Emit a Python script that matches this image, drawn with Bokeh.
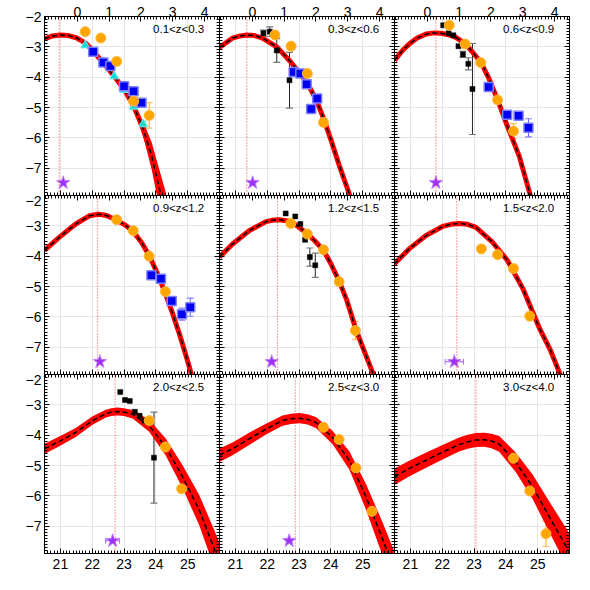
import numpy as np
from bokeh.plotting import figure
from bokeh.layouts import gridplot
from bokeh.models import (Range1d, LinearAxis, FixedTicker, ColumnDataSource,
                          Whisker, TeeHead, Label, Span)
from bokeh.embed import file_html
from bokeh.resources import INLINE

FONT = "Liberation Sans"
X_LO, X_HI = 20.5, 26.0
Y_LO, Y_HI = -7.9, -2.0
SFR_OFFSET = 21.53

panel_titles = ["0.1<z<0.3", "0.3<z<0.6", "0.6<z<0.9",
                "0.9<z<1.2", "1.2<z<1.5", "1.5<z<2.0",
                "2.0<z<2.5", "2.5<z<3.0", "3.0<z<4.0"]
vline_x = [20.96, 21.36, 21.80, 22.17, 22.32, 22.46, 22.72, 22.88, 23.06]
star_x = [21.09, 21.54, 21.80, 22.24, 22.14, 22.38, 22.64, 22.69, None]
star_xerr = [0.05, 0.10, 0.05, 0.05, 0.05, 0.29, 0.22, 0.10, None]
star_y = -7.48

x_ticks = [21, 22, 23, 24, 25]
sfr_ticks = [0, 1, 2, 3, 4]
y_ticks = [-7, -6, -5, -4, -3, -2]

# ---- panel 1 ----
p1_curve_x = [20.5, 20.75, 21.0, 21.25, 21.5, 21.78, 22.0, 22.35, 22.69, 23.0, 23.3, 23.6, 23.87, 24.07, 24.3]
p1_curve_y = [-2.74, -2.64, -2.61, -2.63, -2.70, -2.87, -3.10, -3.54, -3.97, -4.40, -4.95, -5.70, -6.60, -7.50, -8.50]
p1_band = [0, 0, 0, 0, 0, 0, 0, 0.02, 0.04, 0.08, 0.13, 0.25, 0.45, 0.60, 0.75]
p1_orange_x = [21.78, 22.27, 22.77, 23.30, 23.79]
p1_orange_y = [-2.50, -2.71, -3.48, -4.79, -5.26]
p1_orange_err = [0, 0, 0, 0.10, 0.42]
p1_blue_x = [22.03, 22.35, 22.57, 23.00, 23.30, 23.55]
p1_blue_y = [-3.16, -3.52, -3.63, -4.30, -4.46, -4.84]
p1_blue_err = [0, 0, 0, 0, 0, 0]
p1_cyan_x = [21.78, 22.02, 22.35, 22.69, 23.00, 23.30, 23.60]
p1_cyan_y = [-2.95, -3.22, -3.50, -3.97, -4.42, -4.97, -5.55]
p1_cyan_err = [0, 0, 0, 0, 0, 0.10, 0.10]

# ---- panel 2 ----
p2_curve_x = [20.5, 20.91, 21.15, 21.36, 21.6, 21.85, 22.3, 22.74, 23.27, 23.54, 23.75, 24.0, 24.27, 24.58, 24.8]
p2_curve_y = [-3.02, -2.71, -2.64, -2.61, -2.63, -2.71, -3.00, -3.50, -4.21, -4.75, -5.30, -6.06, -6.93, -7.85, -8.60]
p2_band = [0, 0, 0, 0, 0, 0, 0, 0, 0, 0.03, 0.06, 0.10, 0.15, 0.20, 0.22]
p2_orange_x = [22.24, 22.75, 23.26, 23.77]
p2_orange_y = [-2.61, -2.98, -3.88, -5.49]
p2_orange_err = [0, 0, 0, 0.13]
p2_blue_x = [22.83, 23.04, 23.24, 23.57, 23.38]
p2_blue_y = [-3.83, -3.88, -4.23, -4.70, -5.05]
p2_blue_err = [0, 0, 0, 0, 0.12]
p2_black_x = [21.88, 22.08, 22.30, 22.70]
p2_black_y = [-2.55, -2.50, -3.12, -4.10]
p2_black_err = [0.10, 0.16, 0.39, 0.92]

# ---- panel 3 ----
p3_curve_x = [20.5, 20.75, 20.96, 21.2, 21.49, 21.75, 21.96, 22.2, 22.43, 22.74, 23.21, 23.47, 23.74, 24.05, 24.42, 24.74, 25.0]
p3_curve_y = [-3.45, -3.12, -2.91, -2.72, -2.58, -2.54, -2.55, -2.60, -2.69, -2.91, -3.50, -4.05, -4.75, -5.62, -6.60, -7.79, -8.70]
p3_band = [0, 0, 0, 0, 0, 0, 0, 0, 0, 0, 0, 0.03, 0.05, 0.08, 0.12, 0.15, 0.15]
p3_orange_x = [22.22, 22.72, 23.21, 23.74, 24.24]
p3_orange_y = [-2.29, -2.91, -3.52, -4.75, -5.78]
p3_orange_err = [0.10, 0, 0, 0, 0.25]
p3_blue_x = [23.46, 24.04, 24.40, 24.71]
p3_blue_y = [-4.32, -5.24, -5.27, -5.67]
p3_blue_err = [0, 0.10, 0.12, 0.30]
p3_black_x = [22.03, 22.20, 22.35, 22.51, 22.65, 22.82, 22.95]
p3_black_y = [-2.29, -2.55, -2.62, -2.98, -3.25, -3.56, -4.39]
p3_black_err = [0, 0, 0, 0, 0.10, 0.20, 1.50]

# ---- panel 4 ----
p4_curve_x = [20.5, 20.96, 21.48, 21.91, 22.2, 22.45, 22.74, 23.0, 23.27, 23.55, 23.79, 24.03, 24.26, 24.5, 24.75, 25.0, 25.10, 25.3]
p4_curve_y = [-3.81, -3.38, -2.94, -2.67, -2.62, -2.66, -2.80, -2.95, -3.16, -3.55, -3.98, -4.53, -5.12, -5.81, -6.60, -7.46, -7.83, -8.60]
p4_band = [0, 0, 0, 0, 0, 0, 0, 0, 0, 0, 0, 0, 0, 0.03, 0.06, 0.10, 0.12, 0.15]
p4_orange_x = [22.77, 23.29, 23.79, 24.30]
p4_orange_y = [-2.80, -3.16, -4.00, -5.17]
p4_orange_err = [0, 0, 0, 0]
p4_blue_x = [23.86, 24.16, 24.50, 24.82, 25.08]
p4_blue_y = [-4.63, -4.74, -5.48, -5.91, -5.68]
p4_blue_err = [0, 0, 0.15, 0.20, 0.30]

# ---- panel 5 ----
p5_curve_x = [20.5, 20.91, 21.43, 21.96, 22.2, 22.38, 22.6, 22.80, 23.25, 23.5, 23.77, 24.0, 24.26, 24.5, 24.77, 25.0, 25.31, 25.5]
p5_curve_y = [-4.03, -3.60, -3.16, -2.86, -2.81, -2.80, -2.83, -2.89, -3.25, -3.50, -3.81, -4.25, -4.82, -5.45, -6.36, -7.00, -7.83, -8.40]
p5_band = [0, 0, 0, 0, 0, 0, 0, 0, 0, 0, 0, 0, 0, 0.03, 0.06, 0.10, 0.12, 0.15]
p5_orange_x = [22.74, 23.26, 23.77, 24.26, 24.77]
p5_orange_y = [-2.92, -3.27, -3.79, -4.84, -6.45]
p5_orange_err = [0.12, 0, 0, 0, 0.30]
p5_black_x = [22.58, 22.88, 23.04, 23.19, 23.34, 23.51]
p5_black_y = [-2.59, -2.69, -2.94, -3.46, -4.03, -4.30]
p5_black_err = [0, 0, 0, 0, 0.30, 0.40]

# ---- panel 6 ----
p6_curve_x = [20.5, 20.96, 21.49, 22.01, 22.27, 22.53, 22.8, 23.06, 23.58, 24.05, 24.53, 25.05, 25.4, 25.68, 25.9]
p6_curve_y = [-4.25, -3.76, -3.32, -3.02, -2.95, -2.92, -2.95, -3.05, -3.54, -4.14, -5.06, -6.36, -7.10, -7.83, -8.40]
p6_band = [0, 0, 0, 0, 0, 0, 0, 0, 0, 0, 0, 0.05, 0.08, 0.10, 0.12]
p6_orange_x = [23.23, 23.74, 24.24, 24.75]
p6_orange_y = [-3.76, -3.95, -4.41, -5.98]
p6_orange_err = [0.08, 0, 0, 0.13]

# ---- panel 7 ----
p7_curve_x = [20.5, 21.01, 21.48, 22.01, 22.43, 22.6, 22.80, 23.0, 23.27, 23.79, 24.31, 24.84, 25.36, 25.84, 26.0]
p7_curve_y = [-4.45, -4.18, -3.91, -3.52, -3.29, -3.24, -3.22, -3.24, -3.31, -3.69, -4.39, -5.37, -6.46, -7.76, -8.20]
p7_band = [0.17, 0.16, 0.15, 0.14, 0.13, 0.13, 0.13, 0.13, 0.14, 0.20, 0.28, 0.38, 0.50, 0.62, 0.65]
p7_orange_x = [23.79, 24.30, 24.81]
p7_orange_y = [-3.52, -4.39, -5.77]
p7_orange_err = [0, 0, 0.08]
p7_black_x = [22.88, 23.03, 23.18, 23.34, 23.49, 23.64, 23.94]
p7_black_y = [-2.58, -2.84, -2.87, -3.23, -3.36, -3.52, -4.74]
p7_black_err = [0, 0, 0, 0, 0, 0, 1.50]

# ---- panel 8 ----
p8_curve_x = [20.5, 20.91, 21.43, 21.96, 22.48, 22.75, 23.01, 23.27, 23.53, 24.05, 24.58, 25.10, 25.63, 26.0]
p8_curve_y = [-4.66, -4.45, -4.12, -3.80, -3.52, -3.46, -3.44, -3.48, -3.58, -4.07, -4.83, -6.02, -7.44, -8.50]
p8_band = [0.22, 0.21, 0.20, 0.18, 0.17, 0.17, 0.17, 0.17, 0.18, 0.22, 0.30, 0.42, 0.55, 0.65]
p8_orange_x = [23.77, 24.26, 24.79, 25.29]
p8_orange_y = [-3.74, -4.14, -5.08, -6.51]
p8_orange_err = [0.12, 0, 0, 0.27]

# ---- panel 9 ----
p9_curve_x = [20.5, 20.96, 21.48, 22.01, 22.53, 22.8, 23.06, 23.32, 23.55, 23.79, 24.31, 24.84, 25.36, 25.89, 26.0]
p9_curve_y = [-5.37, -5.10, -4.83, -4.56, -4.31, -4.22, -4.16, -4.15, -4.19, -4.29, -4.89, -5.70, -6.68, -7.66, -7.88]
p9_band = [0.27, 0.26, 0.25, 0.24, 0.23, 0.23, 0.23, 0.23, 0.24, 0.26, 0.32, 0.40, 0.50, 0.60, 0.62]
p9_orange_x = [24.24, 24.75, 25.26]
p9_orange_y = [-4.76, -5.84, -7.25]
p9_orange_err = [0, 0, 0.42]

panels = [
    dict(cx=p1_curve_x, cy=p1_curve_y, dy=p1_band,
         orange=(p1_orange_x, p1_orange_y, p1_orange_err),
         blue=(p1_blue_x, p1_blue_y, p1_blue_err),
         cyan=(p1_cyan_x, p1_cyan_y, p1_cyan_err)),
    dict(cx=p2_curve_x, cy=p2_curve_y, dy=p2_band,
         orange=(p2_orange_x, p2_orange_y, p2_orange_err),
         blue=(p2_blue_x, p2_blue_y, p2_blue_err),
         black=(p2_black_x, p2_black_y, p2_black_err)),
    dict(cx=p3_curve_x, cy=p3_curve_y, dy=p3_band,
         orange=(p3_orange_x, p3_orange_y, p3_orange_err),
         blue=(p3_blue_x, p3_blue_y, p3_blue_err),
         black=(p3_black_x, p3_black_y, p3_black_err)),
    dict(cx=p4_curve_x, cy=p4_curve_y, dy=p4_band,
         orange=(p4_orange_x, p4_orange_y, p4_orange_err),
         blue=(p4_blue_x, p4_blue_y, p4_blue_err)),
    dict(cx=p5_curve_x, cy=p5_curve_y, dy=p5_band,
         orange=(p5_orange_x, p5_orange_y, p5_orange_err),
         black=(p5_black_x, p5_black_y, p5_black_err)),
    dict(cx=p6_curve_x, cy=p6_curve_y, dy=p6_band,
         orange=(p6_orange_x, p6_orange_y, p6_orange_err)),
    dict(cx=p7_curve_x, cy=p7_curve_y, dy=p7_band,
         orange=(p7_orange_x, p7_orange_y, p7_orange_err),
         black=(p7_black_x, p7_black_y, p7_black_err)),
    dict(cx=p8_curve_x, cy=p8_curve_y, dy=p8_band,
         orange=(p8_orange_x, p8_orange_y, p8_orange_err)),
    dict(cx=p9_curve_x, cy=p9_curve_y, dy=p9_band,
         orange=(p9_orange_x, p9_orange_y, p9_orange_err)),
]

STYLES = {
    "black": dict(marker="square", size=5, fill="black", line="black", lw=0.5,
                  ecolor="#222222", hcolor="#777777"),
    "blue": dict(marker="square", size=9, fill="#0000F0", line="#8080FF", lw=1.5,
                 ecolor="#6060FF", hcolor="#8080FF"),
    "cyan": dict(marker="triangle", size=9, fill="#10DADA", line="#70ECEC", lw=1,
                 ecolor="#40D0D0", hcolor="#70E0E0"),
    "orange": dict(marker="circle", size=10, fill="#FFA500", line="#FFB840", lw=1,
                   ecolor="#FFA500", hcolor="#FFC060"),
}

x_minor = list(np.round(np.arange(20.5, 26.001, 0.1), 2))
sfr_minor = list(np.round(np.arange(-1.0, 4.5, 0.1), 2))
y_minor = list(np.round(np.arange(-7.9, -1.999, 0.1), 2))


def style_axis(ax, show_labels):
    ax.axis_line_color = "black"
    ax.axis_line_width = 1
    ax.major_tick_in = 5
    ax.major_tick_out = 0
    ax.minor_tick_in = 3
    ax.minor_tick_out = 0
    ax.major_tick_line_color = "black"
    ax.minor_tick_line_color = "black"
    ax.axis_label = None
    if show_labels:
        ax.major_label_text_font = FONT
        ax.major_label_text_font_size = "14px"
        ax.major_label_text_color = "black"
    else:
        ax.major_label_text_font_size = "0px"
        ax.major_label_standoff = 0


minus = "\u2212"
figs = []
for i, pan in enumerate(panels):
    r, c = divmod(i, 3)
    p = figure(frame_width=175, frame_height=179,
               x_range=Range1d(X_LO, X_HI), y_range=Range1d(Y_LO, Y_HI),
               output_backend="svg", toolbar_location=None,
               x_axis_location=None, y_axis_location=None,
               min_border=0, outline_line_color=None,
               background_fill_color="white", border_fill_color="white")
    p.min_border_left = 44 if c == 0 else 0
    p.min_border_right = 3 if c == 2 else 0
    p.min_border_top = 16 if r == 0 else 0
    p.min_border_bottom = 22 if r == 2 else 0
    p.extra_x_ranges = {"sfr": Range1d(X_LO - SFR_OFFSET, X_HI - SFR_OFFSET)}

    bottom = LinearAxis(ticker=FixedTicker(ticks=x_ticks, minor_ticks=x_minor))
    style_axis(bottom, r == 2)
    bottom.major_label_standoff = 5 if r == 2 else 0
    p.add_layout(bottom, "below")

    top = LinearAxis(x_range_name="sfr",
                     ticker=FixedTicker(ticks=sfr_ticks, minor_ticks=sfr_minor))
    style_axis(top, r == 0)
    top.major_label_standoff = 0
    p.add_layout(top, "above")

    left = LinearAxis(ticker=FixedTicker(ticks=y_ticks, minor_ticks=y_minor))
    style_axis(left, c == 0)
    left.major_label_standoff = 3 if c == 0 else 0
    left.major_label_overrides = {t: minus + str(abs(t)) for t in y_ticks}
    p.add_layout(left, "left")

    right = LinearAxis(ticker=FixedTicker(ticks=y_ticks, minor_ticks=y_minor))
    style_axis(right, False)
    p.add_layout(right, "right")

    # model band + best-fit curve
    cx = np.array(pan["cx"])
    cy = np.array(pan["cy"])
    dy = np.array(pan["dy"])
    p.varea(x=cx, y1=cy - dy, y2=cy + dy, fill_color="#FF0000")
    p.line(cx, cy, line_color="#FF0000", line_width=5, line_join="round")
    p.line(cx, cy, line_color="black", line_width=1.5, line_dash="5 3")

    # vertical dotted line
    p.add_layout(Span(location=vline_x[i], dimension="height", line_color="#FF2020",
                      line_width=1, line_dash="1 2", line_alpha=0.9))

    # data sets
    for key in ["black", "cyan", "blue", "orange"]:
        if key not in pan:
            continue
        xs, ys, es = pan[key]
        st = STYLES[key]
        xe = [x for x, e in zip(xs, es) if e > 0]
        if xe:
            ye = [y for y, e in zip(ys, es) if e > 0]
            ee = [e for e in es if e > 0]
            src = ColumnDataSource(dict(x=xe, lo=[y - e for y, e in zip(ye, ee)],
                                        up=[y + e for y, e in zip(ye, ee)]))
            p.add_layout(Whisker(source=src, base="x", lower="lo", upper="up",
                                 dimension="height", line_color=st["ecolor"], line_width=1,
                                 upper_head=TeeHead(size=7, line_color=st["hcolor"], line_width=1.2),
                                 lower_head=TeeHead(size=7, line_color=st["hcolor"], line_width=1.2)))
        p.scatter(xs, ys, marker=st["marker"], size=st["size"], fill_color=st["fill"],
                  line_color=st["line"], line_width=st["lw"])

    # star
    if star_x[i] is not None:
        ssrc = ColumnDataSource(dict(y=[star_y], l=[star_x[i] - star_xerr[i]],
                                     u=[star_x[i] + star_xerr[i]]))
        p.add_layout(Whisker(source=ssrc, base="y", lower="l", upper="u", dimension="width",
                             line_color="#A050F0", line_width=1,
                             upper_head=TeeHead(size=6, line_color="#B070F0"),
                             lower_head=TeeHead(size=6, line_color="#B070F0")))
        p.scatter([star_x[i]], [star_y], marker="star", size=14, fill_color="#9B30FF",
                  line_color="#C080FF", line_width=1)

    p.add_layout(Label(x=X_HI - 0.48, y=Y_HI - 0.42, text=panel_titles[i],
                       text_align="right", text_baseline="middle",
                       text_font=FONT, text_font_size="11.5px", text_color="black"))
    figs.append(p)

grid = gridplot([figs[0:3], figs[3:6], figs[6:9]], toolbar_location=None)

open("out.html", "w").write(file_html(grid, INLINE, title="Luminosity functions"))
